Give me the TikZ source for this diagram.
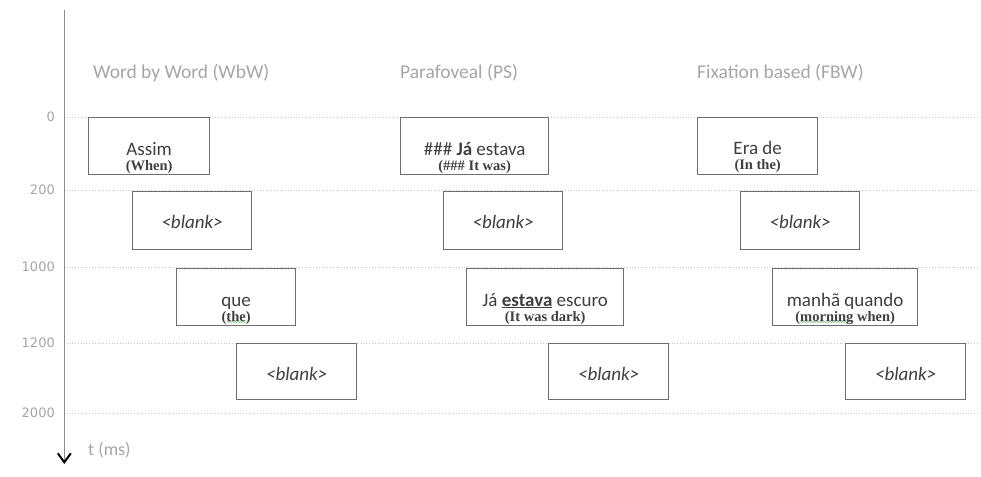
\documentclass[tikz,border=0pt]{standalone}
\usepackage{fontspec}
\setmainfont{Carlito}
\newfontfamily\glossfont{Liberation Serif}
\newfontfamily\tickfont{DejaVu Sans}
\usetikzlibrary{arrows.meta,calc,decorations.pathmorphing}
\definecolor{txtgray}{HTML}{3F3F3F}
\definecolor{headgray}{HTML}{A6A6A6}
\definecolor{boxgray}{HTML}{6E6E6E}
\definecolor{gridgray}{HTML}{C8C8C8}
\definecolor{axisgray}{HTML}{8C8C8C}
\definecolor{spellgreen}{HTML}{8CC08C}
\newcommand\spellmark[1]{\setbox0\hbox{#1}\rlap{\raisebox{-1.8pt}{\tikz[x=1pt,y=1pt]\draw[spellgreen,line width=0.7pt,decorate,decoration={snake,amplitude=0.6pt,segment length=2.6pt}] (0pt,0pt)--(\wd0,0pt);}}\box0\relax}
\begin{document}
\begin{tikzpicture}[x=1pt,y=-1pt,
  frame/.style={draw=boxgray,line width=1.3pt,fill=white,inner sep=0pt,anchor=north west},
  word/.style={font=\fontsize{19}{22}\selectfont,text=txtgray,anchor=base,inner sep=0pt},
  gloss/.style={font=\glossfont\bfseries\fontsize{14.5}{16}\selectfont,text=txtgray,anchor=base,inner sep=0pt},
  blanktxt/.style={word,font=\fontsize{19}{22}\selectfont\itshape},
  header/.style={font=\fontsize{19.5}{22}\selectfont,text=headgray,anchor=base west,inner sep=0pt},
  tick/.style={font=\tickfont\fontsize{13}{15}\selectfont,text=headgray,anchor=east,inner sep=0pt},
  gridline/.style={gridgray,line width=0.8pt,dotted}]
\useasboundingbox (0,0) rectangle (981,476);
\fill[white] (0,0) rectangle (981,476);
% grid
\foreach \yy/\lab/\nm in {117/0/g0,190/200/g1,267/1000/g2,343/1200/g3,413/2000/g4}{
  \coordinate (\nm l) at (64,\yy);
  \coordinate (\nm r) at (978,\yy);
  \draw[gridline] (\nm l) -- (\nm r);
  \node[tick] (\nm t) at (55,\yy) {\lab};
}
% axis
\coordinate (axtop) at (64.3,10);
\coordinate (axbot) at (64.3,464);
\draw[axisgray,line width=1.2pt,-{Straight Barb[length=9pt,width=13pt,line width=2pt,color=black]}] (axtop) -- (axbot);
\node[font=\fontsize{18}{20}\selectfont,text=headgray,anchor=west,inner sep=0pt] (tms) at (88,450) {t (ms)};
% headers
\node[header] (hw) at (93,79) {Word by Word (WbW)};
\node[header] (hp) at (400,79) {Parafoveal (PS)};
\node[header] (hf) at (697,79) {Fixation based (FBW)};
% WbW column
\node[frame,minimum width=121pt,minimum height=57pt] (b1) at (88,117) {};
\node[frame,minimum width=119pt,minimum height=58pt] (b2) at (132,191) {};
\node[frame,minimum width=119pt,minimum height=57pt] (b3) at (176,268) {};
\node[frame,minimum width=120pt,minimum height=56pt] (b4) at (236,343) {};
\node[word] (b1w) at ($(b1.north)+(0,38)$) {Assim};
\node[gloss] (b1g) at ($(b1.north)+(0,53)$) {(When)};
\node[blanktxt] (b2w) at ($(b2.north)+(0,37)$) {<blank>};
\node[word] (b3w) at ($(b3.north)+(0,38)$) {que};
\node[gloss] (b3g) at ($(b3.north)+(0,53)$) {(\spellmark{the})};
\node[blanktxt] (b4w) at ($(b4.north)+(0,37)$) {<blank>};
% PS column
\node[frame,minimum width=148pt,minimum height=57pt] (p1) at (400,117) {};
\node[frame,minimum width=119pt,minimum height=58pt] (p2) at (443,191) {};
\node[frame,minimum width=157pt,minimum height=57pt] (p3) at (466,268) {};
\node[frame,minimum width=120pt,minimum height=56pt] (p4) at (548,343) {};
\node[word] (p1w) at ($(p1.north)+(0,38)$) {\#\#\# \textbf{Já} estava};
\node[gloss] (p1g) at ($(p1.north)+(0,53)$) {(\#\#\# It was)};
\node[blanktxt] (p2w) at ($(p2.north)+(0,37)$) {<blank>};
\node[word] (p3w) at ($(p3.north)+(0,38)$) {Já \underline{\textbf{estava}} escuro};
\node[gloss] (p3g) at ($(p3.north)+(0,53)$) {(It was dark)};
\node[blanktxt] (p4w) at ($(p4.north)+(0,37)$) {<blank>};
% FBW column
\node[frame,minimum width=120pt,minimum height=57pt] (f1) at (697,117) {};
\node[frame,minimum width=119pt,minimum height=58pt] (f2) at (740,191) {};
\node[frame,minimum width=145pt,minimum height=57pt] (f3) at (772,268) {};
\node[frame,minimum width=120pt,minimum height=56pt] (f4) at (845,343) {};
\node[word] (f1w) at ($(f1.north)+(0,37)$) {Era de};
\node[gloss] (f1g) at ($(f1.north)+(0,52.5)$) {(In the)};
\node[blanktxt] (f2w) at ($(f2.north)+(0,37)$) {<blank>};
\node[word] (f3w) at ($(f3.north)+(0,38)$) {manhã quando};
\node[gloss] (f3g) at ($(f3.north)+(0,53)$) {(\spellmark{morning} when)};
\node[blanktxt] (f4w) at ($(f4.north)+(0,37)$) {<blank>};
\end{tikzpicture}
\end{document}
